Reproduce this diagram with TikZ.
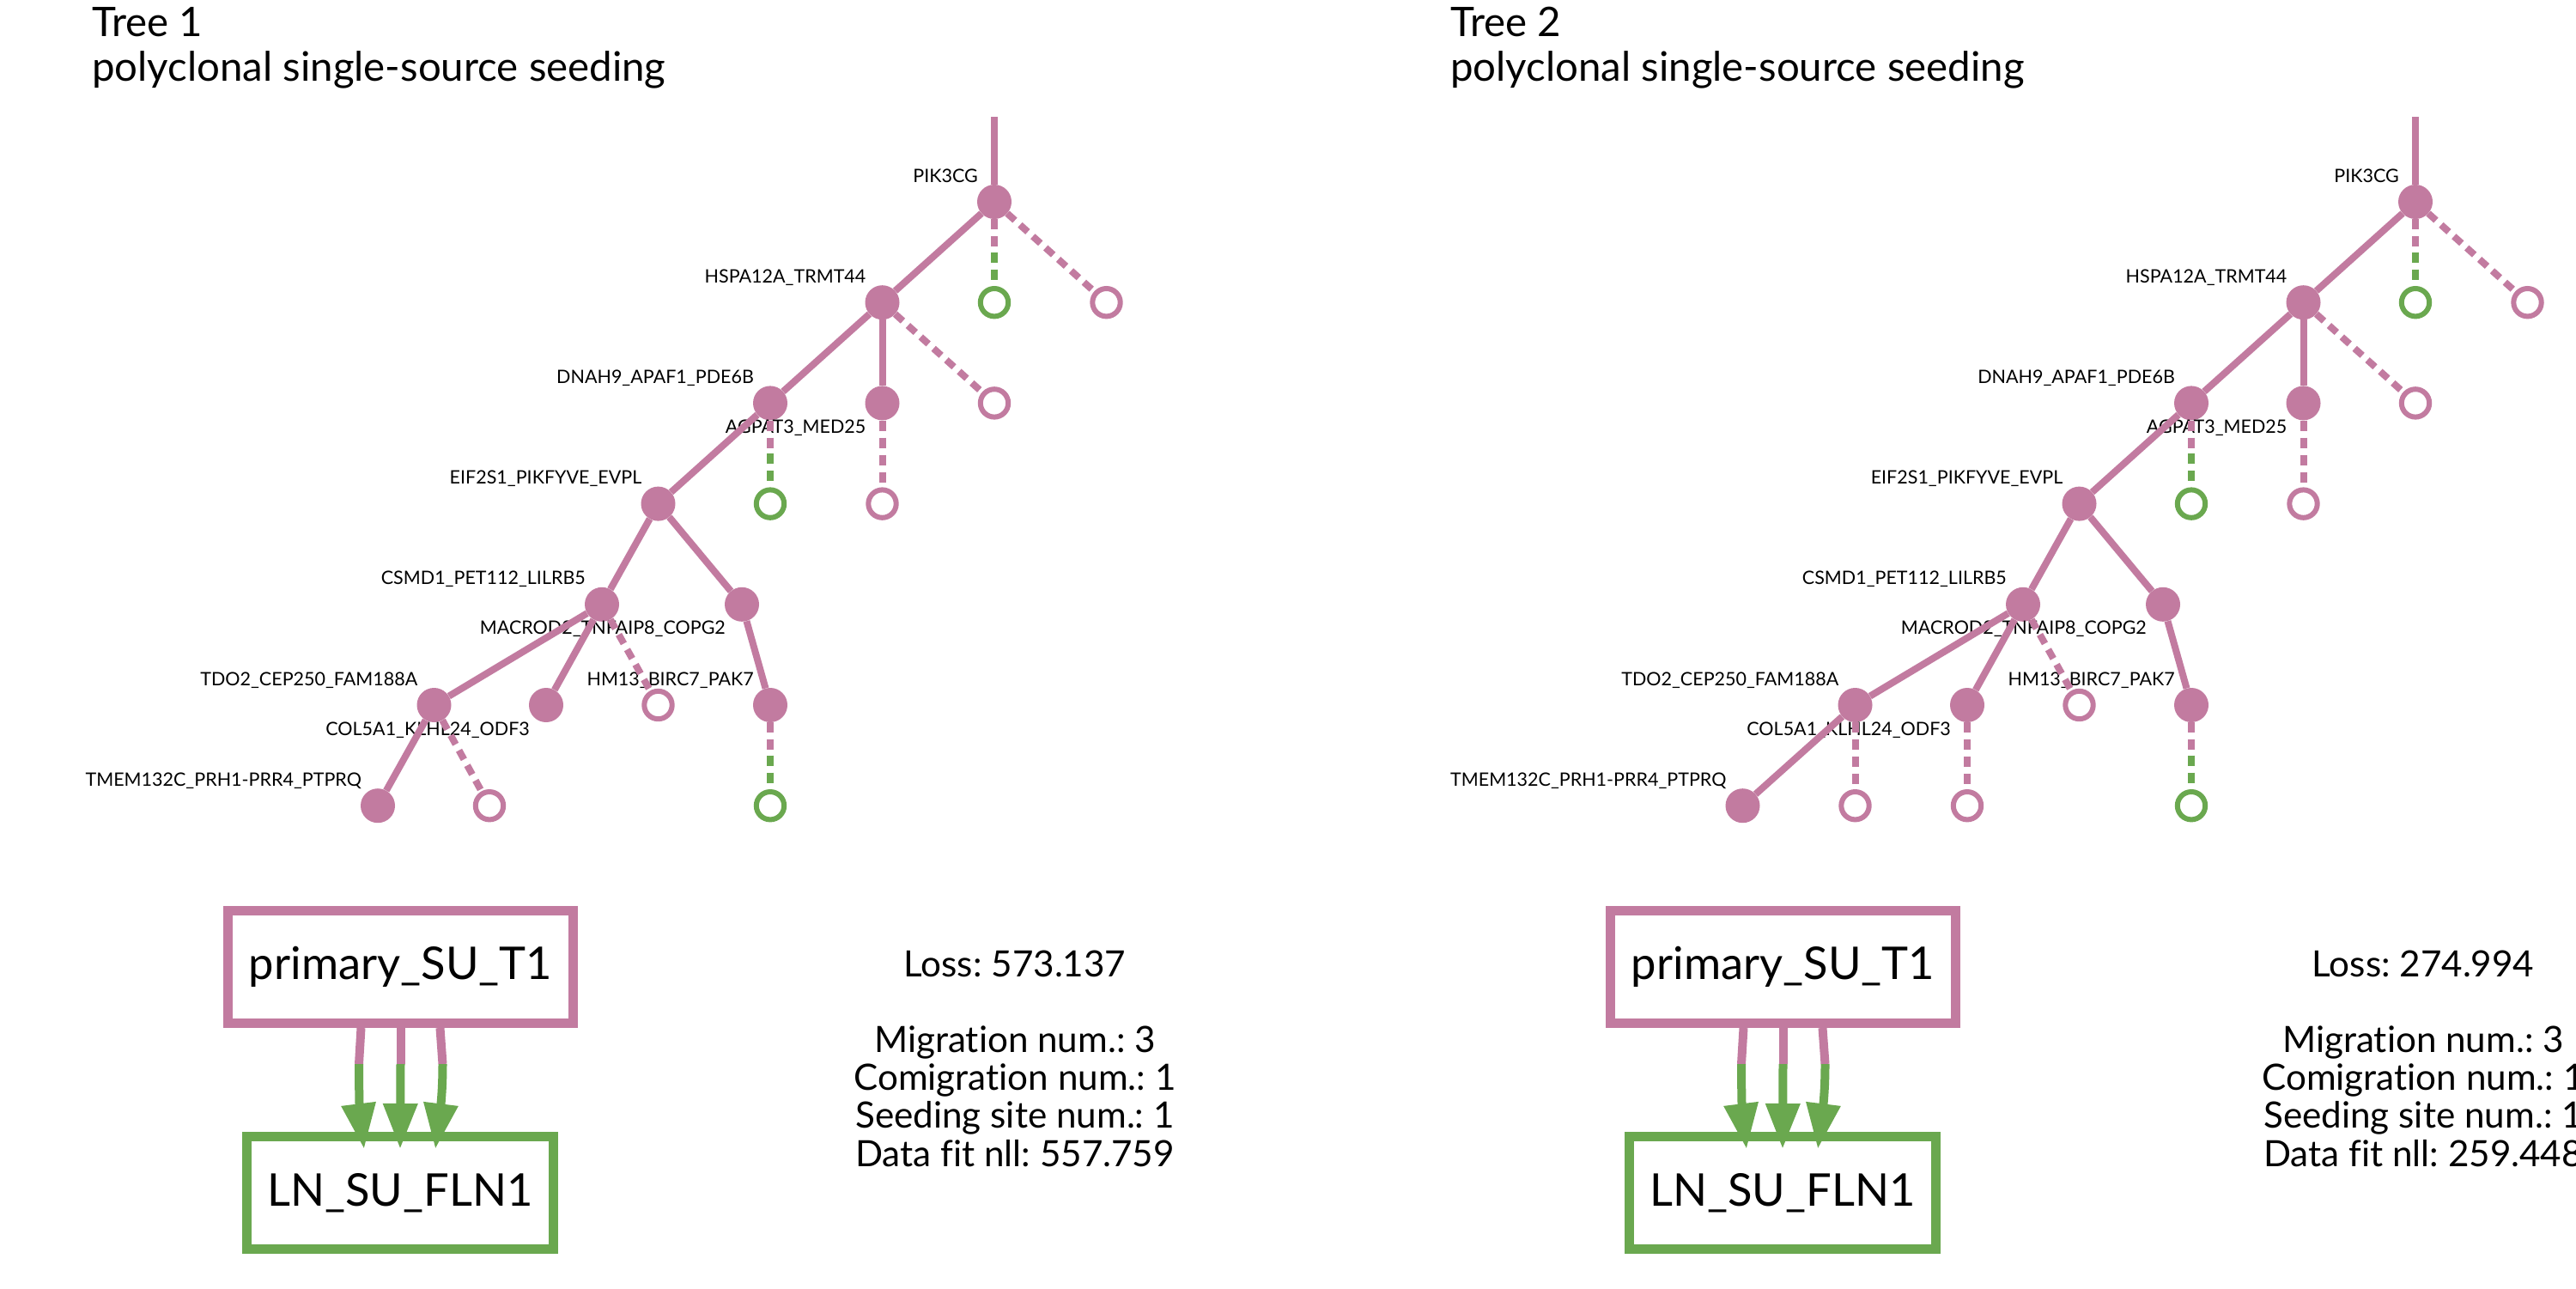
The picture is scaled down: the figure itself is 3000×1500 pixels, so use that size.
\documentclass[tikz,border=0pt]{standalone}
\usepackage{fontspec}
\setmainfont{Lato}[Ligatures=NoCommon]
\frenchspacing
\usepackage{tikz}
\usetikzlibrary{arrows.meta,calc}
\definecolor{clonepink}{HTML}{C27BA0}
\definecolor{sitegreen}{HTML}{6AA84F}

\begin{document}
\begin{tikzpicture}[x=1pt,y=1pt,node distance=117.2pt]
% Define styles
\tikzstyle{mut} = [circle, fill=clonepink, minimum size=40pt, inner sep=0pt]
\tikzstyle{leafp} = [circle, draw=clonepink, line width=6pt, minimum size=32.4pt, inner sep=0pt]
\tikzstyle{leafg} = [circle, draw=sitegreen, line width=6pt, minimum size=32.4pt, inner sep=0pt]
\tikzstyle{gene} = [anchor=base east, inner sep=0pt, font=\fontsize{21.5pt}{26pt}\selectfont]
\tikzstyle{branch} = [line width=8pt, draw=clonepink]
\tikzstyle{dashbranch} = [line width=8pt, dash pattern=on 12pt off 8pt]
\tikzstyle{site} = [rectangle, line width=10.7pt, minimum height=131.3pt, font=\fontsize{52.5pt}{60pt}\selectfont]
\tikzstyle{migr} = [line width=10pt, -{Triangle[length=53pt,width=38pt]}]
\tikzstyle{title} = [anchor=base west, align=left, inner sep=0pt, font=\fontsize{47.4pt}{52pt}\selectfont]
\tikzstyle{stats} = [anchor=base, align=center, inner sep=0pt, font=\fontsize{42.2pt}{44.2pt}\selectfont]

\path[use as bounding box, fill=white] (0,0) rectangle (3000,-1500);

% Titles
\node (titleA) [title] at (107,-94) {Tree 1\\polyclonal single-source seeding};
\node (titleB) [title] at (1689,-94) {Tree 2\\polyclonal single-source seeding};

% Tree 1 nodes
\coordinate (topA) at (1158,-136);
\node (pikA) [mut] at (1158,-235) {};
\node (hspA) [mut, below of=pikA, xshift=-130.5pt] {};
\node (g1A) [leafg, below of=pikA] {};
\node (p1A) [leafp, below of=pikA, xshift=130.5pt] {};
\node (dnaA) [mut, below of=hspA, xshift=-130.5pt] {};
\node (agpA) [mut, below of=hspA] {};
\node (p2A) [leafp, below of=hspA, xshift=130.5pt] {};
\node (eifA) [mut, below of=dnaA, xshift=-130.5pt] {};
\node (g2A) [leafg, below of=dnaA] {};
\node (p3A) [leafp, below of=agpA] {};
\node (csmA) [mut, below of=eifA, xshift=-65.5pt] {};
\node (macA) [mut, below of=eifA, xshift=97.5pt] {};
\node (tdoA) [mut, below of=csmA, xshift=-195.5pt] {};
\node (colA) [mut, below of=csmA, xshift=-65pt] {};
\node (p4A) [leafp, below of=csmA, xshift=65.5pt] {};
\node (hmA) [mut, below of=macA, xshift=33pt] {};
\node (tmeA) [mut, below of=tdoA, xshift=-65.5pt] {};
\node (p5A) [leafp, below of=tdoA, xshift=64.5pt] {};
\node (g3A) [leafg, below of=hmA] {};

% Tree 1 labels
\node (lpikA) [gene] at ([xshift=-19pt,yshift=23pt]pikA) {PIK3CG};
\node (lhspA) [gene] at ([xshift=-19pt,yshift=23pt]hspA) {HSPA12A\_TRMT44};
\node (ldnaA) [gene] at ([xshift=-19pt,yshift=23pt]dnaA) {DNAH9\_APAF1\_PDE6B};
\node (lagpA) [gene] at ([xshift=-19pt,yshift=-35pt]agpA) {AGPAT3\_MED25};
\node (leifA) [gene] at ([xshift=-19pt,yshift=23pt]eifA) {EIF2S1\_PIKFYVE\_EVPL};
\node (lcsmA) [gene] at ([xshift=-19pt,yshift=23pt]csmA) {CSMD1\_PET112\_LILRB5};
\node (lmacA) [gene] at ([xshift=-19pt,yshift=-35pt]macA) {MACROD2\_TNFAIP8\_COPG2};
\node (ltdoA) [gene] at ([xshift=-19pt,yshift=23pt]tdoA) {TDO2\_CEP250\_FAM188A};
\node (lcolA) [gene] at ([xshift=-19pt,yshift=-35pt]colA) {COL5A1\_KLHL24\_ODF3};
\node (lhmA) [gene] at ([xshift=-19pt,yshift=23pt]hmA) {HM13\_BIRC7\_PAK7};
\node (ltmeA) [gene] at ([xshift=-19pt,yshift=23pt]tmeA) {TMEM132C\_PRH1-PRR4\_PTPRQ};

% Tree 1 edges
\draw [branch] (topA) -- (pikA);
\draw [branch] (pikA) -- (hspA);
\draw [dashbranch, clonepink] (pikA) -- ($(pikA)!.5!(g1A)$);
\draw [dashbranch, sitegreen] ($(pikA)!.5!(g1A)$) -- (g1A);
\draw [dashbranch, clonepink] (pikA) -- (p1A);
\draw [branch] (hspA) -- (dnaA);
\draw [branch] (hspA) -- (agpA);
\draw [dashbranch, clonepink] (hspA) -- (p2A);
\draw [branch] (dnaA) -- (eifA);
\draw [dashbranch, clonepink] (dnaA) -- ($(dnaA)!.5!(g2A)$);
\draw [dashbranch, sitegreen] ($(dnaA)!.5!(g2A)$) -- (g2A);
\draw [dashbranch, clonepink] (agpA) -- (p3A);
\draw [branch] (eifA) -- (csmA);
\draw [branch] (eifA) -- (macA);
\draw [branch] (csmA) -- (tdoA);
\draw [branch] (csmA) -- (colA);
\draw [dashbranch, clonepink] (csmA) -- (p4A);
\draw [branch] (macA) -- (hmA);
\draw [branch] (tdoA) -- (tmeA);
\draw [dashbranch, clonepink] (tdoA) -- (p5A);
\draw [dashbranch, clonepink] (hmA) -- ($(hmA)!.5!(g3A)$);
\draw [dashbranch, sitegreen] ($(hmA)!.5!(g3A)$) -- (g3A);

% Tree 1 migration graph
\node (primA) [site, draw=clonepink, minimum width=402.3pt] at (466.5,-1126) {primary\_SU\_T1};
\node (lnA) [site, draw=sitegreen, minimum width=357.3pt] at (466,-1389) {LN\_SU\_FLN1};
\coordinate (k1A) at ([xshift=-48.5pt,yshift=-42pt]primA.south);
\coordinate (k2A) at ([yshift=-42pt]primA.south);
\coordinate (k3A) at ([xshift=49pt,yshift=-42pt]primA.south);
\draw [line width=10pt, clonepink] ([xshift=-46pt]primA.south) -- (k1A);
\draw [line width=10pt, clonepink] (primA.south) -- (k2A);
\draw [line width=10pt, clonepink] ([xshift=46pt]primA.south) -- (k3A);
\draw [migr, sitegreen] (k1A) to[out=-90,in=97] ([xshift=-42pt,yshift=-20pt]lnA.north);
\draw [migr, sitegreen] (k2A) -- ([yshift=-20pt]lnA.north);
\draw [migr, sitegreen] (k3A) to[out=-90,in=83] ([xshift=41pt,yshift=-20pt]lnA.north);
\node (statA) [stats] at (1182,-1358) {Loss: 573.137\\[44.2pt]Migration num.: 3\\Comigration num.: 1\\Seeding site num.: 1\\Data fit nll: 557.759};

% Tree 2 nodes
\coordinate (topB) at (2813,-136);
\node (pikB) [mut] at (2813,-235) {};
\node (hspB) [mut, below of=pikB, xshift=-130.5pt] {};
\node (g1B) [leafg, below of=pikB] {};
\node (p1B) [leafp, below of=pikB, xshift=130.5pt] {};
\node (dnaB) [mut, below of=hspB, xshift=-130.5pt] {};
\node (agpB) [mut, below of=hspB] {};
\node (p2B) [leafp, below of=hspB, xshift=130.5pt] {};
\node (eifB) [mut, below of=dnaB, xshift=-130.5pt] {};
\node (g2B) [leafg, below of=dnaB] {};
\node (p3B) [leafp, below of=agpB] {};
\node (csmB) [mut, below of=eifB, xshift=-65.5pt] {};
\node (macB) [mut, below of=eifB, xshift=97.5pt] {};
\node (tdoB) [mut, below of=csmB, xshift=-195.5pt] {};
\node (colB) [mut, below of=csmB, xshift=-65pt] {};
\node (p4B) [leafp, below of=csmB, xshift=65.5pt] {};
\node (hmB) [mut, below of=macB, xshift=33pt] {};
\node (tmeB) [mut, below of=tdoB, xshift=-131pt] {};
\node (p5B) [leafp, below of=tdoB] {};
\node (p6B) [leafp, below of=colB] {};
\node (g3B) [leafg, below of=hmB] {};

% Tree 2 labels
\node (lpikB) [gene] at ([xshift=-19pt,yshift=23pt]pikB) {PIK3CG};
\node (lhspB) [gene] at ([xshift=-19pt,yshift=23pt]hspB) {HSPA12A\_TRMT44};
\node (ldnaB) [gene] at ([xshift=-19pt,yshift=23pt]dnaB) {DNAH9\_APAF1\_PDE6B};
\node (lagpB) [gene] at ([xshift=-19pt,yshift=-35pt]agpB) {AGPAT3\_MED25};
\node (leifB) [gene] at ([xshift=-19pt,yshift=23pt]eifB) {EIF2S1\_PIKFYVE\_EVPL};
\node (lcsmB) [gene] at ([xshift=-19pt,yshift=23pt]csmB) {CSMD1\_PET112\_LILRB5};
\node (lmacB) [gene] at ([xshift=-19pt,yshift=-35pt]macB) {MACROD2\_TNFAIP8\_COPG2};
\node (ltdoB) [gene] at ([xshift=-19pt,yshift=23pt]tdoB) {TDO2\_CEP250\_FAM188A};
\node (lcolB) [gene] at ([xshift=-19pt,yshift=-35pt]colB) {COL5A1\_KLHL24\_ODF3};
\node (lhmB) [gene] at ([xshift=-19pt,yshift=23pt]hmB) {HM13\_BIRC7\_PAK7};
\node (ltmeB) [gene] at ([xshift=-19pt,yshift=23pt]tmeB) {TMEM132C\_PRH1-PRR4\_PTPRQ};

% Tree 2 edges
\draw [branch] (topB) -- (pikB);
\draw [branch] (pikB) -- (hspB);
\draw [dashbranch, clonepink] (pikB) -- ($(pikB)!.5!(g1B)$);
\draw [dashbranch, sitegreen] ($(pikB)!.5!(g1B)$) -- (g1B);
\draw [dashbranch, clonepink] (pikB) -- (p1B);
\draw [branch] (hspB) -- (dnaB);
\draw [branch] (hspB) -- (agpB);
\draw [dashbranch, clonepink] (hspB) -- (p2B);
\draw [branch] (dnaB) -- (eifB);
\draw [dashbranch, clonepink] (dnaB) -- ($(dnaB)!.5!(g2B)$);
\draw [dashbranch, sitegreen] ($(dnaB)!.5!(g2B)$) -- (g2B);
\draw [dashbranch, clonepink] (agpB) -- (p3B);
\draw [branch] (eifB) -- (csmB);
\draw [branch] (eifB) -- (macB);
\draw [branch] (csmB) -- (tdoB);
\draw [branch] (csmB) -- (colB);
\draw [dashbranch, clonepink] (csmB) -- (p4B);
\draw [branch] (macB) -- (hmB);
\draw [branch] (tdoB) -- (tmeB);
\draw [dashbranch, clonepink] (tdoB) -- (p5B);
\draw [dashbranch, clonepink] (colB) -- (p6B);
\draw [dashbranch, clonepink] (hmB) -- ($(hmB)!.5!(g3B)$);
\draw [dashbranch, sitegreen] ($(hmB)!.5!(g3B)$) -- (g3B);

% Tree 2 migration graph
\node (primB) [site, draw=clonepink, minimum width=402.3pt] at (2076.5,-1126) {primary\_SU\_T1};
\node (lnB) [site, draw=sitegreen, minimum width=357.3pt] at (2076,-1389) {LN\_SU\_FLN1};
\coordinate (k1B) at ([xshift=-48.5pt,yshift=-42pt]primB.south);
\coordinate (k2B) at ([yshift=-42pt]primB.south);
\coordinate (k3B) at ([xshift=49pt,yshift=-42pt]primB.south);
\draw [line width=10pt, clonepink] ([xshift=-46pt]primB.south) -- (k1B);
\draw [line width=10pt, clonepink] (primB.south) -- (k2B);
\draw [line width=10pt, clonepink] ([xshift=46pt]primB.south) -- (k3B);
\draw [migr, sitegreen] (k1B) to[out=-90,in=97] ([xshift=-42pt,yshift=-20pt]lnB.north);
\draw [migr, sitegreen] (k2B) -- ([yshift=-20pt]lnB.north);
\draw [migr, sitegreen] (k3B) to[out=-90,in=83] ([xshift=41pt,yshift=-20pt]lnB.north);
\node (statB) [stats] at (2822,-1358) {Loss: 274.994\\[44.2pt]Migration num.: 3\\Comigration num.: 1\\Seeding site num.: 1\\Data fit nll: 259.448};

\end{tikzpicture}
\end{document}
